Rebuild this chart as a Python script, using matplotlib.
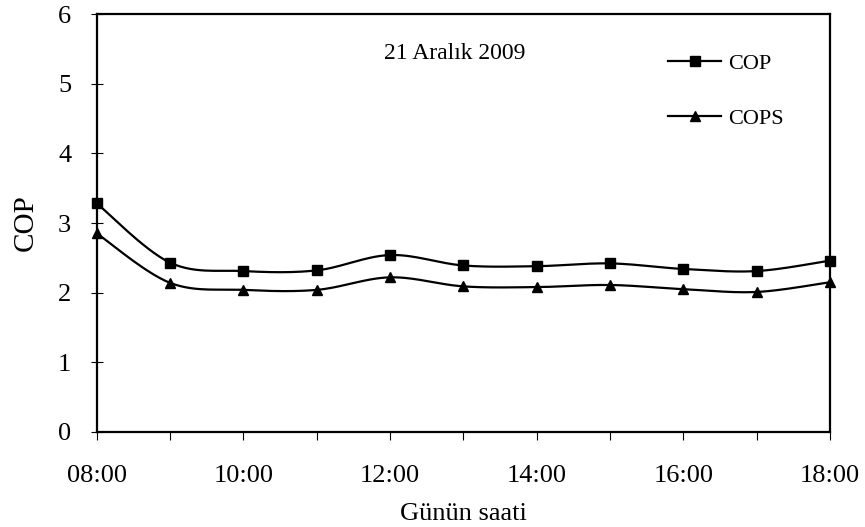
import numpy as np
import matplotlib
matplotlib.use("Agg")
import matplotlib.pyplot as plt

plt.rcParams['font.family'] = ['Liberation Serif', 'DejaVu Serif']

hours = ["08:00", "09:00", "10:00", "11:00", "12:00", "13:00",
         "14:00", "15:00", "16:00", "17:00", "18:00"]
cop = [3.28, 2.43, 2.31, 2.32, 2.54, 2.39, 2.38, 2.42, 2.34, 2.31, 2.46]
cops = [2.85, 2.14, 2.04, 2.04, 2.22, 2.09, 2.08, 2.11, 2.05, 2.01, 2.15]
tick_labels = ["08:00", "", "10:00", "", "12:00", "", "14:00", "", "16:00", "", "18:00"]


def smooth(x, y, n=30):
    """Cubic Bezier smoothing through every point (Catmull-Rom style)."""
    x = np.asarray(x, float)
    y = np.asarray(y, float)
    px = np.concatenate([[x[0]], x, [x[-1]]])
    py = np.concatenate([[y[0]], y, [y[-1]]])
    xs, ys = [], []
    t = np.linspace(0, 1, n)
    for i in range(1, len(px) - 2):
        p0 = np.array([px[i], py[i]])
        p3 = np.array([px[i + 1], py[i + 1]])
        p1 = p0 + (np.array([px[i + 1], py[i + 1]]) - np.array([px[i - 1], py[i - 1]])) / 6
        p2 = p3 - (np.array([px[i + 2], py[i + 2]]) - np.array([px[i], py[i]])) / 6
        b = ((1 - t) ** 3)[:, None] * p0 + (3 * (1 - t) ** 2 * t)[:, None] * p1 \
            + (3 * (1 - t) * t ** 2)[:, None] * p2 + (t ** 3)[:, None] * p3
        xs.append(b[:, 0])
        ys.append(b[:, 1])
    return np.concatenate(xs), np.concatenate(ys)


fig = plt.figure(figsize=(8.65, 5.27), dpi=100)
ax = fig.add_axes([0.112, 0.1803, 0.8475, 0.7931])

x = np.arange(len(hours))
for vals, mk, ms, lab in [(cop, 's', 7, 'COP'), (cops, '^', 7, 'COPS')]:
    sx, sy = smooth(x, vals)
    ax.plot(sx, sy, color='black', lw=1.6, zorder=3, clip_on=False)
    ax.plot(x, vals, linestyle='none', marker=mk, ms=ms, color='black',
            zorder=4, clip_on=False)
    ax.plot([], [], color='black', lw=1.6, marker=mk, ms=ms, label=lab)

ax.set_xlim(0, len(hours) - 1)
ax.set_ylim(0, 6)
ax.set_yticks(range(0, 7))
ax.set_xticks(x)
ax.set_xticklabels(tick_labels)

for s in ax.spines.values():
    s.set_linewidth(1.6)

ax.tick_params(axis='y', direction='inout', length=9, width=0.8, labelsize=19, pad=14)
ax.tick_params(axis='x', direction='out', length=6, width=0.8, labelsize=19, pad=18)

ax.set_xlabel("Günün saati", fontsize=19, labelpad=11)
ax.set_ylabel("COP", fontsize=21, labelpad=14)

ax.text(0.488, 0.905, "21 Aralık 2009", transform=ax.transAxes,
        ha='center', va='center', fontsize=17)

ax.legend(loc='center left', bbox_to_anchor=(0.779, 0.816), frameon=False,
          fontsize=16, handlelength=2.4, handletextpad=0.3, labelspacing=1.55,
          borderpad=0, borderaxespad=0)

fig.savefig("out.png", dpi=100)
